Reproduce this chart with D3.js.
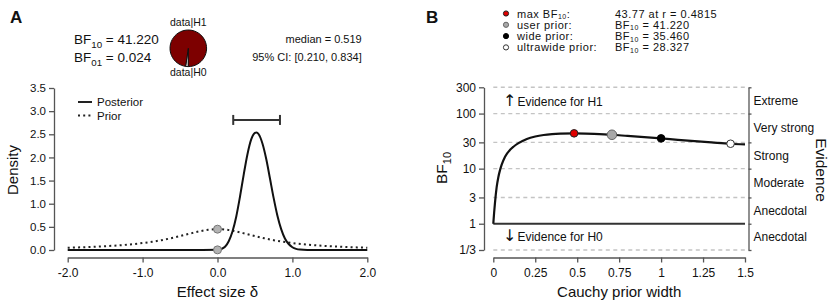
<!DOCTYPE html>
<html>
<head>
<meta charset="utf-8">
<script src="https://cdn.jsdelivr.net/npm/d3@7"></script>
<style>
body{margin:0;background:#fff;}
text{font-family:"Liberation Sans",Arial,sans-serif;fill:#111;}
</style>
</head>
<body>
<div id="chart-area"></div>
<script>
// ---- panel A data
var postX=[-2,-0.5,0,0.05,0.1,0.15,0.2,0.25,0.3,0.35,0.4,0.45,0.5,0.52,0.55,0.6,0.65,0.7,0.75,0.8,0.85,0.9,0.95,1.0,1.05,1.1,1.2,1.5,2];
var postY=[0,0,0.003,0.02,0.07,0.19,0.40,0.72,1.15,1.63,2.07,2.39,2.53,2.54,2.50,2.30,1.97,1.55,1.12,0.74,0.45,0.25,0.13,0.06,0.025,0.01,0.002,0,0];
var priorX=[-2,-1.75,-1.5,-1.25,-1,-0.875,-0.75,-0.625,-0.5,-0.375,-0.25,-0.125,0,0.125,0.25,0.375,0.5,0.625,0.75,0.875,1,1.25,1.5,1.75,2];
var priorY=[0.050,0.063,0.082,0.109,0.150,0.178,0.212,0.253,0.300,0.351,0.400,0.437,0.450,0.437,0.400,0.351,0.300,0.253,0.212,0.178,0.150,0.109,0.082,0.063,0.050];
var densTicks=[0,0.5,1,1.5,2,2.5,3,3.5];
var effTicks=[-2,-1,0,1,2];
var ciBounds=[0.210,0.834];
var ciLevel=2.81;
var medianVal=0.519;
var priorAt0=0.450, postAt0=0.003;
var bf10=41.220, bf01=0.024;

// ---- panel B data
var rWidth=[0,0.005,0.01,0.02,0.03,0.04,0.05,0.07,0.1,0.12,0.15,0.2,0.25,0.3,0.35,0.4,0.4815,0.55,0.6,0.707,0.8,0.9,1.0,1.1,1.2,1.3,1.414,1.5];
var bfCurve=[1,1.6,2.4,4.6,7.0,9.4,11.8,16.5,22,25,29,34.6,38.3,40.8,42.3,43.2,43.77,43.4,42.8,41.22,39.3,37.4,35.46,33.4,31.6,30.0,28.327,27.6];
var markNames=["max BF","user prior:","wide prior:","ultrawide prior:"];
var markR=[0.4815,0.707,1,1.414];
var markBF=[43.77,41.22,35.46,28.327];
var bfTicks=[1/3,1,3,10,30,100,300];
var bfTickLabels=["1/3","1","3","10","30","100","300"];
var rTicks=[0,0.25,0.5,0.75,1,1.25,1.5];
var rTickLabels=["0","0.25","0.5","0.75","1","1.25","1.5"];
var evidLevels=["Anecdotal","Anecdotal","Moderate","Strong","Very strong","Extreme"];

var W=835,H=304;
var svg=d3.select("#chart-area").append("svg")
	.attr("width",W)
	.attr("height",H);

var axisCol="#555";
function styleAxis(sel){
	sel.select(".domain").attr("stroke",axisCol).attr("stroke-width",1.3);
	sel.selectAll(".tick line").attr("stroke",axisCol).attr("stroke-width",1.3);
	sel.selectAll(".tick text").attr("fill","#111").style("font-family","Liberation Sans, Arial, sans-serif");
}
var fmt1=function(d){return d3.format(".1f")(d).replace("\u2212","-");};

// ================= PANEL A =================
var xA=d3.scaleLinear().domain([-2,2]).range([67.7,367.3]);
var yA=d3.scaleLinear().domain([0,3.5]).range([250,88]);

svg.append("text").attr("x",10).attr("y",23).attr("font-size","17px")
	.attr("font-weight","bold").text("A");

var axA=svg.append("g").attr("transform","translate(0,257.5)")
	.call(d3.axisBottom(xA).tickValues(effTicks).tickSize(5).tickSizeOuter(0).tickFormat(fmt1));
styleAxis(axA);
axA.selectAll(".tick text").attr("font-size","12px").attr("y",11);

var ayA=svg.append("g").attr("transform","translate(54,0)")
	.call(d3.axisLeft(yA).tickValues(densTicks).tickSize(5).tickSizeOuter(0).tickFormat(fmt1));
styleAxis(ayA);
ayA.selectAll(".tick text").attr("font-size","11.5px").attr("x",-8);

svg.append("text").attr("x",217.5).attr("y",297).attr("text-anchor","middle")
	.attr("font-size","15px").text("Effect size \u03b4");
svg.append("text").attr("transform","translate(18,170) rotate(-90)").attr("text-anchor","middle")
	.attr("font-size","15px").text("Density");

var lineA=d3.line().x(function(d){return xA(d[0]);}).y(function(d){return yA(d[1]);}).curve(d3.curveMonotoneX);

svg.append("path").datum(priorX.map(function(x,i){return [x,priorY[i]];}))
	.attr("d",lineA).attr("fill","none").attr("stroke","#222")
	.attr("stroke-width",2).attr("stroke-dasharray","2,3.2");
svg.append("path").datum(postX.map(function(x,i){return [x,postY[i]];}))
	.attr("d",lineA).attr("fill","none").attr("stroke","#111").attr("stroke-width",2);

// CI bar
var ciG=svg.append("g").attr("stroke","#333").attr("stroke-width",2);
ciG.append("line").attr("x1",xA(ciBounds[0])).attr("x2",xA(ciBounds[1]))
	.attr("y1",yA(ciLevel)).attr("y2",yA(ciLevel));
ciBounds.forEach(function(b){
	ciG.append("line").attr("x1",xA(b)).attr("x2",xA(b))
		.attr("y1",yA(ciLevel)-5).attr("y2",yA(ciLevel)+5);
});

[priorAt0,postAt0].forEach(function(v){
	svg.append("circle").attr("cx",xA(0)).attr("cy",yA(v)).attr("r",4)
		.attr("fill","#b3b3b3").attr("stroke","#777").attr("stroke-width",1);
});

// legend A
var legA=[["Posterior",null],["Prior","2,3.2"]];
legA.forEach(function(d,i){
	var yy=102+i*13.5;
	svg.append("line").attr("x1",78).attr("x2",92).attr("y1",yy).attr("y2",yy)
		.attr("stroke","#222").attr("stroke-width",2).attr("stroke-dasharray",d[1]);
	svg.append("text").attr("x",97).attr("y",yy+4).attr("font-size","11.5px").text(d[0]);
});

// header A
function bfText(x,y,sub,val,size){
	var t=svg.append("text").attr("x",x).attr("y",y).attr("font-size",size+"px");
	t.append("tspan").text("BF");
	t.append("tspan").attr("font-size",(size*0.72)+"px").attr("dy",size*0.3).text(sub);
	t.append("tspan").attr("dy",-size*0.3).text(" = "+val);
	return t;
}
bfText(74,44,"10",d3.format(".3f")(bf10),13.5);
bfText(74,62,"01",d3.format(".3f")(bf01),13.5);

var pieC=[188.3,48.3], pieR=18.3;
var h0=1/(1+bf10);
var pie=d3.pie().sort(null).startAngle(Math.PI).endAngle(3*Math.PI);
var arc=d3.arc().innerRadius(0).outerRadius(pieR);
var pg=svg.append("g").attr("transform","translate("+pieC[0]+","+pieC[1]+")");
pg.selectAll("path").data(pie([h0,1-h0])).enter().append("path")
	.attr("d",arc)
	.attr("fill",function(d,i){return i==0?"#fff":"#7d0000";})
	.attr("stroke","#111").attr("stroke-width",1);
svg.append("text").attr("x",pieC[0]).attr("y",26).attr("text-anchor","middle")
	.attr("font-size","10.5px").text("data|H1");
svg.append("text").attr("x",pieC[0]).attr("y",75.5).attr("text-anchor","middle")
	.attr("font-size","10.5px").text("data|H0");

svg.append("text").attr("x",361.7).attr("y",43).attr("text-anchor","end")
	.attr("font-size","11px").text("median = "+d3.format(".3f")(medianVal));
svg.append("text").attr("x",361.7).attr("y",61).attr("text-anchor","end")
	.attr("font-size","11px").text("95% CI: ["+d3.format(".3f")(ciBounds[0])+", "+d3.format(".3f")(ciBounds[1])+"]");

// ================= PANEL B =================
var xB=d3.scaleLinear().domain([0,1.5]).range([493.3,745]);
var yB=d3.scaleLog().domain([1/3,300]).range([250,87.3]);

svg.append("text").attr("x",426).attr("y",23).attr("font-size","17px")
	.attr("font-weight","bold").text("B");

// grid
bfTicks.forEach(function(v){
	if(v==1) return;
	svg.append("line").attr("x1",xB(0)).attr("x2",xB(1.5)).attr("y1",yB(v)).attr("y2",yB(v))
		.attr("stroke","#c4c4c4").attr("stroke-width",1.4).attr("stroke-dasharray","4,3.5");
});
svg.append("line").attr("x1",xB(0)).attr("x2",xB(1.5)).attr("y1",yB(1)).attr("y2",yB(1))
	.attr("stroke","#333").attr("stroke-width",2);

var axB=svg.append("g").attr("transform","translate(0,257.5)")
	.call(d3.axisBottom(xB).tickValues(rTicks).tickSize(5).tickSizeOuter(0)
		.tickFormat(function(d,i){return rTickLabels[i];}));
styleAxis(axB);
axB.selectAll(".tick text").attr("font-size","12px").attr("y",11);

var ayB=svg.append("g").attr("transform","translate(484,0)")
	.call(d3.axisLeft(yB).tickValues(bfTicks).tickSize(5).tickSizeOuter(0)
		.tickFormat(function(d,i){return bfTickLabels[i];}));
styleAxis(ayB);
ayB.selectAll(".tick text").attr("font-size","12px").attr("x",-8);

var ayR=svg.append("g").attr("transform","translate(748.5,0)")
	.call(d3.axisRight(yB).tickValues(bfTicks).tickSize(3).tickSizeOuter(0).tickFormat(""));
styleAxis(ayR);

evidLevels.forEach(function(lab,i){
	var ym=Math.sqrt(bfTicks[i]*bfTicks[i+1]);
	svg.append("text").attr("x",753.5).attr("y",yB(ym)+4.3).attr("font-size","12px").text(lab);
});
svg.append("text").attr("transform","translate(816,170) rotate(90)").attr("text-anchor","middle")
	.attr("font-size","15.5px").text("Evidence");

var ylab=svg.append("text").attr("transform","translate(447,168) rotate(-90)").attr("text-anchor","middle")
	.attr("font-size","15.5px");
ylab.append("tspan").text("BF");
ylab.append("tspan").attr("font-size","11px").attr("dy",4).text("10");

svg.append("text").attr("x",619.2).attr("y",297).attr("text-anchor","middle")
	.attr("font-size","15px").text("Cauchy prior width");

function evidText(y,arrow,label){
	var t=svg.append("text").attr("x",503).attr("y",y).attr("font-size","12px");
	t.append("tspan").attr("font-size","16px").style("font-family","DejaVu Sans").text(arrow);
	t.append("tspan").attr("dx",1).text(label);
}
evidText(106,"\u2191","Evidence for H1");
evidText(241,"\u2193","Evidence for H0");

var lineB=d3.line().x(function(d){return xB(d[0]);}).y(function(d){return yB(d[1]);}).curve(d3.curveMonotoneX);
svg.append("path").datum(rWidth.map(function(r,i){return [r,bfCurve[i]];}))
	.attr("d",lineB).attr("fill","none").attr("stroke","#111").attr("stroke-width",2.2);

var markFill=["#e00000","#a8a8a8","#000","#fff"];
var markStroke=["#222","#666","#000","#333"];
var markSize=[3.8,4.8,3.8,3.8];
markR.forEach(function(r,i){
	svg.append("circle").attr("cx",xB(r)).attr("cy",yB(markBF[i])).attr("r",markSize[i])
		.attr("fill",markFill[i]).attr("stroke",markStroke[i]).attr("stroke-width",1);
});

// legend B
markNames.forEach(function(n,i){
	var yy=13.5+i*11.3;
	svg.append("circle").attr("cx",506).attr("cy",yy).attr("r",2.6)
		.attr("fill",markFill[i]).attr("stroke",markStroke[i]).attr("stroke-width",1);
	var t=svg.append("text").attr("x",517).attr("y",yy+4).attr("font-size","11px")
		.attr("letter-spacing","0.5px");
	if(i==0){
		t.append("tspan").text(n);
		t.append("tspan").attr("font-size","7px").attr("dy",1.5).text("10");
		t.append("tspan").attr("dy",-1.5).text(":");
	} else t.text(n);
	var v=svg.append("text").attr("x",615).attr("y",yy+4).attr("font-size","11px")
		.attr("letter-spacing","0.5px");
	if(i==0){
		v.text(d3.format(".2f")(markBF[0])+" at r = "+markR[0]);
	} else {
		v.append("tspan").text("BF");
		v.append("tspan").attr("font-size","7px").attr("dy",1.5).text("10");
		v.append("tspan").attr("dy",-1.5).text(" = "+d3.format(".3f")(markBF[i]));
	}
});
</script>
</body>
</html>
